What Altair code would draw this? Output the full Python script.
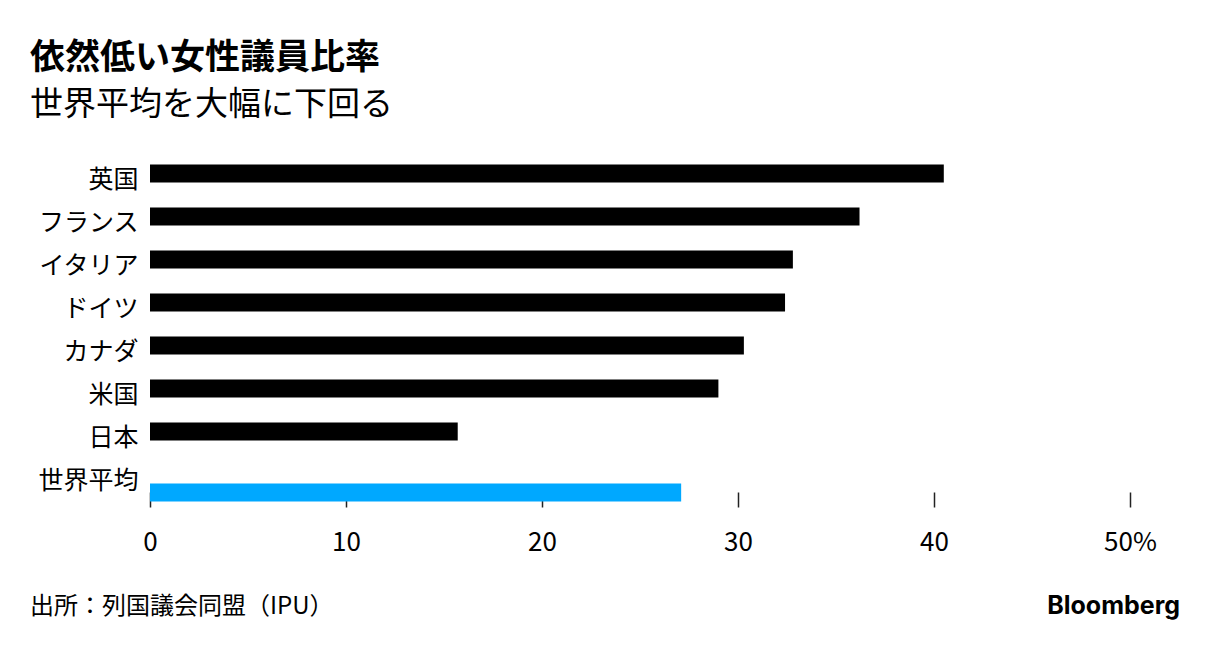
import altair as alt
import pandas as pd

countries = ["英国", "フランス", "イタリア", "ドイツ", "カナダ", "米国", "日本", "世界平均"]
shares = [40.5, 36.2, 32.8, 32.4, 30.3, 29.0, 15.7, 27.1]
groups = ["国", "国", "国", "国", "国", "国", "国", "世界"]
x_ticks = [0, 10, 20, 30, 40, 50]

df = pd.DataFrame({"country": countries, "share": shares, "group": groups})

FONT = "Noto Sans CJK JP"

y_enc = alt.Y(
    "country:N",
    sort=countries,
    scale=alt.Scale(paddingInner=0.58, paddingOuter=0.29),
    axis=alt.Axis(
        title=None, domain=False, ticks=False, labelFontSize=25, labelFont=FONT,
        labelColor="#000000", labelPadding=12, labelOffset=6,
    ),
)
x_enc = alt.X(
    "share:Q",
    scale=alt.Scale(domain=[0, 50], nice=False),
    axis=alt.Axis(
        title=None, values=x_ticks, domain=False, grid=False, tickSize=15,
        tickColor="#222222", tickWidth=1.5, labelFontSize=26, labelFont=FONT,
        labelColor="#000000", labelPadding=22, offset=-4, labelFlush=False,
        zindex=0,
        labelExpr="datum.value == 50 ? '50%' : datum.label",
    ),
)

base = alt.Chart(df)

bars = base.transform_filter(alt.datum.group == "国").mark_bar(color="#000000").encode(
    x=x_enc, y=y_enc
)
world = base.transform_filter(alt.datum.group == "世界").mark_bar(
    color="#00a8ff", yOffset=18
).encode(x=x_enc, y=y_enc)

source = alt.Chart(pd.DataFrame({"t": ["出所：列国議会同盟（IPU）"]})).mark_text(
    align="left", baseline="middle", fontSize=24, font=FONT, color="#000000"
).encode(text="t:N", x=alt.value(-120), y=alt.value(455))

logo = alt.Chart(pd.DataFrame({"t": ["Bloomberg"]})).mark_text(
    align="right", baseline="middle", fontSize=25, font="Inter", fontWeight="bold", color="#000000"
).encode(text="t:N", x=alt.value(1030), y=alt.value(454))

chart = alt.layer(bars, world, source, logo).properties(
    width=980,
    height=344,
    background="#ffffff",
    autosize=alt.AutoSizeParams(type="none"),
    padding={"left": 142, "top": 144, "right": 60, "bottom": 150},
    title=alt.TitleParams(
        text="依然低い女性議員比率",
        subtitle="世界平均を大幅に下回る",
        anchor="start",
        frame="group",
        dx=-120,
        offset=30,
        font=FONT,
        fontSize=35,
        fontWeight="bold",
        color="#000000",
        subtitleFont=FONT,
        subtitleFontSize=33,
        subtitleColor="#000000",
        subtitlePadding=13,
    ),
).configure_view(stroke="transparent", strokeWidth=0)

chart.save("out.html", embed_options={"renderer": "svg", "actions": False})
